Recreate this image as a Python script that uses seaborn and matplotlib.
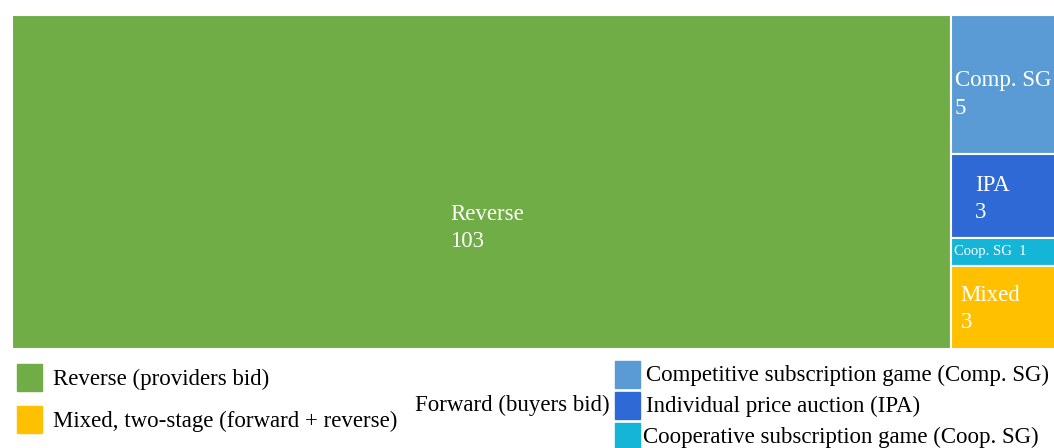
# Treemap of auction types, drawn as stacked bars

import numpy
import seaborn
import matplotlib.pyplot as plt
from matplotlib.patches import Rectangle

# data
big_label = "Reverse"
big_value = 103
side_labels = ["Comp. SG", "IPA", "Coop. SG", "Mixed"]
side_values = [5, 3, 1, 3]
tile_colors = ["#5B9BD5", "#2E69D6", "#15B5D7", "#FFC000"]
big_color = "#70AD47"

legend_left = ["Reverse (providers bid)", "Mixed, two-stage (forward + reverse)"]
legend_left_colors = [big_color, "#FFC000"]
forward_title = "Forward (buyers bid)"
legend_right = ["Competitive subscription game (Comp. SG)",
                "Individual price auction (IPA)",
                "Cooperative subscription game (Coop. SG)"]
legend_right_colors = tile_colors[:3]

seaborn.set_theme(style="white")
plt.rcParams['font.family'] = ['Liberation Serif', 'DejaVu Serif']

W, H = 1054, 448
fig = plt.figure(figsize=(W / 100, H / 100), dpi=100)
ax = fig.add_axes([12 / W, (H - 349) / H, 1048 / W, 334 / H])

total = big_value + sum(side_values)
side_total = sum(side_values)

# big tile
ax.bar(0, 1, width=big_value, align='edge', color=big_color,
       edgecolor='white', linewidth=1.5)
ax.text(48.1, 0.637, big_label + "\n" + str(big_value), color='white',
        fontsize=16.5, ha='left', va='center', linespacing=1.4)

# right column, stacked from the top
bottoms = numpy.cumsum([0] + side_values[:-1]) / side_total
heights = numpy.array(side_values) / side_total
ax.bar([big_value] * len(side_values), heights, width=side_total, bottom=bottoms,
       align='edge', color=tile_colors, edgecolor='white', linewidth=1.5)

offsets = [0.45, 2.65, 0.35, 1.1]
shifts = [0.03, 0.01, 0.0, 0.006]
for lab, v, b, h, off, dy in zip(side_labels, side_values, bottoms, heights, offsets, shifts):
    if v == 1:
        ax.text(big_value + off, b + h / 2 + dy, lab + "  " + str(v), color='white',
                fontsize=10.5, ha='left', va='center')
    else:
        ax.text(big_value + off, b + h / 2 + dy, lab + "\n" + str(v), color='white',
                fontsize=16.5, ha='left', va='center', linespacing=1.4)

ax.set_xlim(0, total)
ax.set_ylim(1, 0)
ax.set_axis_off()

# legend, built by hand
def square(x, y, w, h, c):
    fig.add_artist(Rectangle((x / W, 1 - (y + h) / H), w / W, h / H,
                             color=c, transform=fig.transFigure))

for i, (lab, c) in enumerate(zip(legend_left, legend_left_colors)):
    y = 364 + i * 42
    square(17, y, 25, 27, c)
    fig.text(53 / W, 1 - (y + 15) / H, lab, fontsize=16.5, va='center', color='black')

fig.text(415 / W, 1 - 405 / H, forward_title, fontsize=16.5, va='center', color='black')

for i, (lab, c) in enumerate(zip(legend_right, legend_right_colors)):
    y = 361 + i * 31
    square(615, y, 25, 27, c)
    fig.text((646 if i != 2 else 643) / W, 1 - (y + 14) / H, lab, fontsize=16.5,
             va='center', color='black')

plt.savefig("out.png", dpi=100)
